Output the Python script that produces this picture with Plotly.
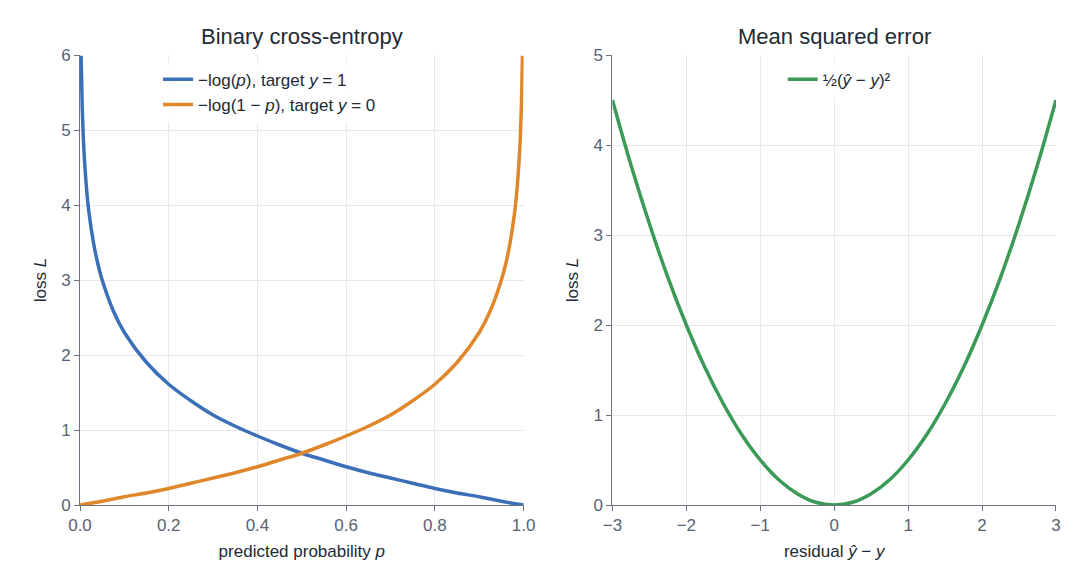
import plotly.graph_objects as go
from plotly.subplots import make_subplots

# Binary cross-entropy, values
p_vals = [0.0025, 0.005, 0.0075, 0.01, 0.015, 0.02, 0.03, 0.04, 0.05, 0.075, 0.1, 0.15, 0.2, 0.25,
          0.3, 0.35, 0.4, 0.45, 0.5, 0.55, 0.6, 0.65, 0.7, 0.75, 0.8, 0.85, 0.9, 0.95, 1.0]
loss_y1 = [5.99, 5.30, 4.89, 4.61, 4.20, 3.91, 3.51, 3.22, 3.00, 2.59, 2.30, 1.90, 1.61, 1.39,
           1.20, 1.05, 0.92, 0.80, 0.69, 0.60, 0.51, 0.43, 0.36, 0.29, 0.22, 0.16, 0.11, 0.05, 0.0]
p_vals0 = [0.0, 0.05, 0.1, 0.15, 0.2, 0.25, 0.3, 0.35, 0.4, 0.45, 0.5, 0.55, 0.6, 0.65, 0.7,
           0.75, 0.8, 0.85, 0.9, 0.925, 0.95, 0.96, 0.97, 0.98, 0.985, 0.99, 0.9925, 0.995, 0.9975]
loss_y0 = [0.0, 0.05, 0.11, 0.16, 0.22, 0.29, 0.36, 0.43, 0.51, 0.60, 0.69, 0.80, 0.92, 1.05, 1.20,
           1.39, 1.61, 1.90, 2.30, 2.59, 3.00, 3.22, 3.51, 3.91, 4.20, 4.61, 4.89, 5.30, 5.99]

# Mean squared error
residual = [-3, -2.75, -2.5, -2.25, -2, -1.75, -1.5, -1.25, -1, -0.75, -0.5, -0.25, 0,
            0.25, 0.5, 0.75, 1, 1.25, 1.5, 1.75, 2, 2.25, 2.5, 2.75, 3]
mse = [4.5, 3.78, 3.125, 2.53, 2.0, 1.53, 1.125, 0.78, 0.5, 0.28, 0.125, 0.03, 0.0,
       0.03, 0.125, 0.28, 0.5, 0.78, 1.125, 1.53, 2.0, 2.53, 3.125, 3.78, 4.5]

BLUE, ORANGE, GREEN = "#3b70b9", "#e0872b", "#3a9a56"
TXT = "#222a35"
TICK = "#5a6272"

fig = make_subplots(rows=1, cols=2, horizontal_spacing=0.091,
                    subplot_titles=("Binary cross-entropy", "Mean squared error"))

fig.add_trace(go.Scatter(x=p_vals, y=loss_y1, mode="lines", line=dict(color=BLUE, width=3.5, shape="spline"),
                         name="−log(<i>p</i>), target <i>y</i> = 1", legend="legend"), 1, 1)
fig.add_trace(go.Scatter(x=p_vals0, y=loss_y0, mode="lines", line=dict(color=ORANGE, width=3.5, shape="spline"),
                         name="−log(1 − <i>p</i>), target <i>y</i> = 0", legend="legend"), 1, 1)
fig.add_trace(go.Scatter(x=residual, y=mse, mode="lines", line=dict(color=GREEN, width=3.5, shape="spline"),
                         name="½(<i>ŷ</i> − <i>y</i>)²", legend="legend2"), 1, 2)

axis = dict(showgrid=True, gridcolor="#e6e8ec", showline=True, linecolor="#6b7280", linewidth=1,
            ticks="outside", tickcolor="#6b7280", ticklen=5, zeroline=False, automargin=False,
            tickfont=dict(size=17, color=TICK), title_font=dict(size=17, color=TXT))

fig.update_xaxes(axis)
fig.update_yaxes(axis)
fig.update_xaxes(range=[0, 1], dtick=0.2, tickformat=".1f",
                 title_text="predicted probability <i>p</i>", title_standoff=10, row=1, col=1)
fig.update_xaxes(range=[-3, 3], dtick=1,
                 title_text="residual <i>ŷ</i> − <i>y</i>", title_standoff=10, row=1, col=2)
fig.update_yaxes(range=[0, 6], dtick=1, title_text="loss <i>L</i>", title_standoff=10, row=1, col=1)
fig.update_yaxes(range=[0, 5], dtick=1, title_text="loss <i>L</i>", title_standoff=10, row=1, col=2)

fig.update_annotations(font=dict(size=22, color=TXT), yanchor="bottom", yshift=4)

fig.update_layout(
    width=1069, height=587, margin=dict(l=72, r=21, t=47, b=90),
    plot_bgcolor="white", paper_bgcolor="white",
    font=dict(family="Liberation Sans, Arial, sans-serif", color=TXT),
    legend=dict(x=0.08, y=0.985, xanchor="left", yanchor="top", bgcolor="rgba(255,255,255,0.8)",
                font=dict(size=17, color=TXT)),
    legend2=dict(x=0.72, y=0.985, xanchor="left", yanchor="top", bgcolor="rgba(255,255,255,0.8)",
                 font=dict(size=17, color=TXT)),
)

fig.write_html("out.html")
